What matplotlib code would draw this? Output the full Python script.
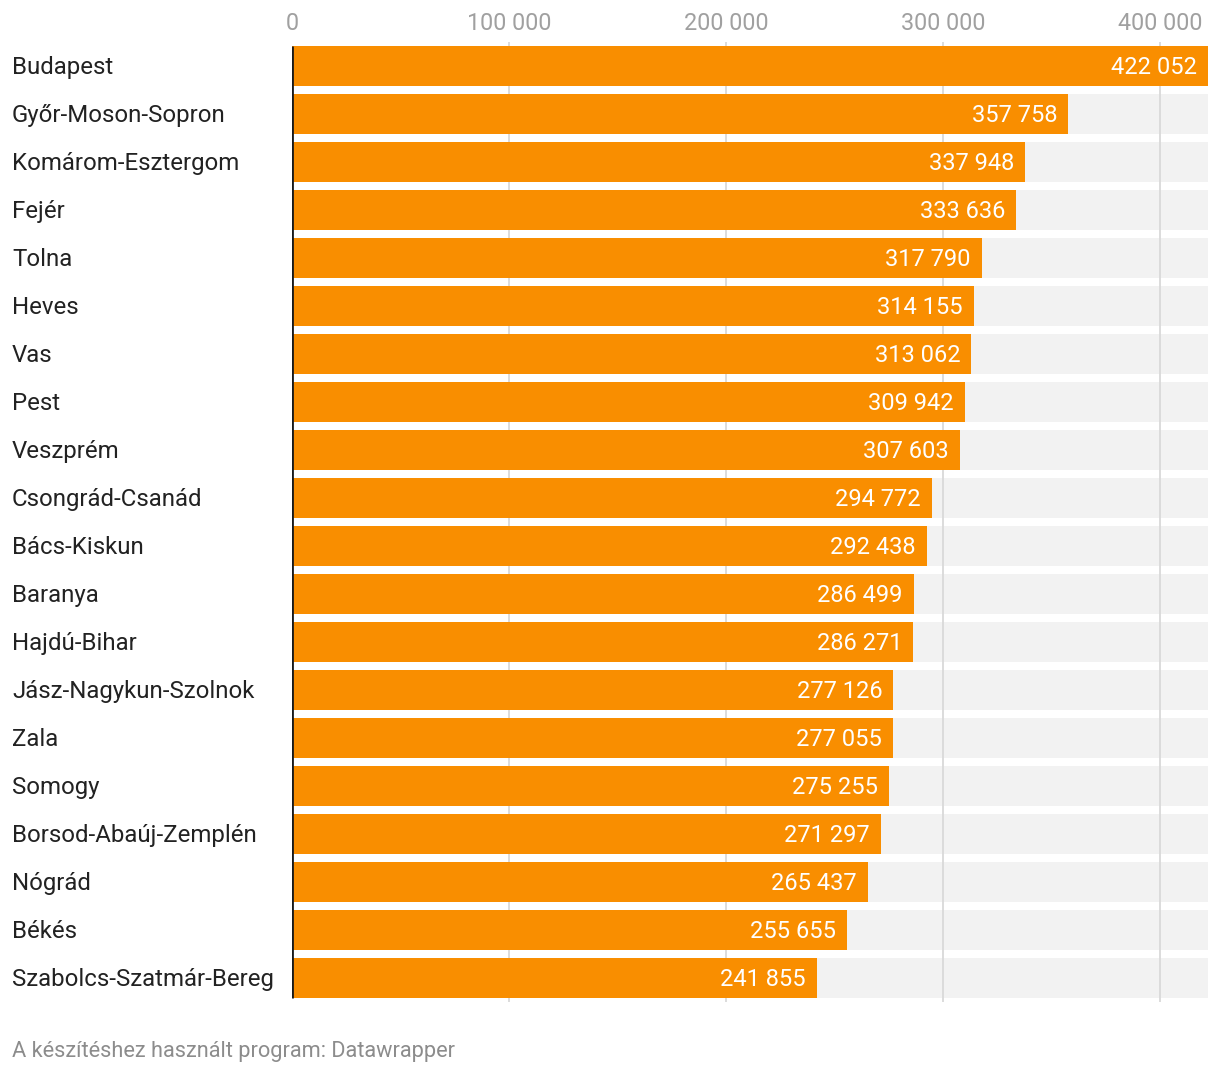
import numpy as np
import matplotlib.pyplot as plt

plt.rcParams['font.family'] = ['Roboto', 'DejaVu Sans']

# megyék és értékek
megyek = ['Budapest', 'Győr-Moson-Sopron', 'Komárom-Esztergom', 'Fejér', 'Tolna',
          'Heves', 'Vas', 'Pest', 'Veszprém', 'Csongrád-Csanád', 'Bács-Kiskun',
          'Baranya', 'Hajdú-Bihar', 'Jász-Nagykun-Szolnok', 'Zala', 'Somogy',
          'Borsod-Abaúj-Zemplén', 'Nógrád', 'Békés', 'Szabolcs-Szatmár-Bereg']
ertekek = [422052, 357758, 337948, 333636, 317790, 314155, 313062, 309942, 307603,
           294772, 292438, 286499, 286271, 277126, 277055, 275255, 271297, 265437,
           255655, 241855]
ticks = [0, 100000, 200000, 300000, 400000]

W, H = 1220, 1074
fig = plt.figure(figsize=(W / 100, H / 100), dpi=100)
ax = fig.add_axes([292 / W, 1 - 1002 / H, (1208 - 292) / W, 960 / H])

n = len(megyek)
y = np.arange(n)
xmax = max(ertekek)
h = 40 / 48

ax.barh(y, [xmax] * n, height=h, color='#f2f2f2', zorder=1)
ax.vlines(ticks[1:], -0.5, n - 0.5, color='#d9d9d9', lw=1.3, zorder=2)
ax.barh(y, ertekek, height=h, color='#f98e00', zorder=3)
ax.vlines(0, -h / 2, n - 1 + h / 2, color='#1a1a1a', lw=2, zorder=4)

def fmt(v):
    return '{:,}'.format(v).replace(',', ' ')

for i, v in enumerate(ertekek):
    ax.annotate(fmt(v), (v, i), xytext=(-8, -1), textcoords='offset points',
                ha='right', va='center', color='white', fontsize=17, zorder=5)
    ax.text(12 / W, 1 - (67.5 + 48 * i) / H, megyek[i], transform=fig.transFigure,
            ha='left', va='center', color='#222222', fontsize=17.25)

for t in ticks:
    ax.text(t, -0.5 - 18.5 / 48, fmt(t), ha='center', va='center',
            color='#a0a0a0', fontsize=16.8)

ax.set_xlim(0, xmax)
ax.set_ylim(n - 0.5, -0.5)
ax.axis('off')

fig.text(12 / W, 1 - 1051 / H, 'A készítéshez használt program: Datawrapper',
         ha='left', va='center', color='#8c8c8c', fontsize=15.7)

fig.savefig('out.png', dpi=100)
